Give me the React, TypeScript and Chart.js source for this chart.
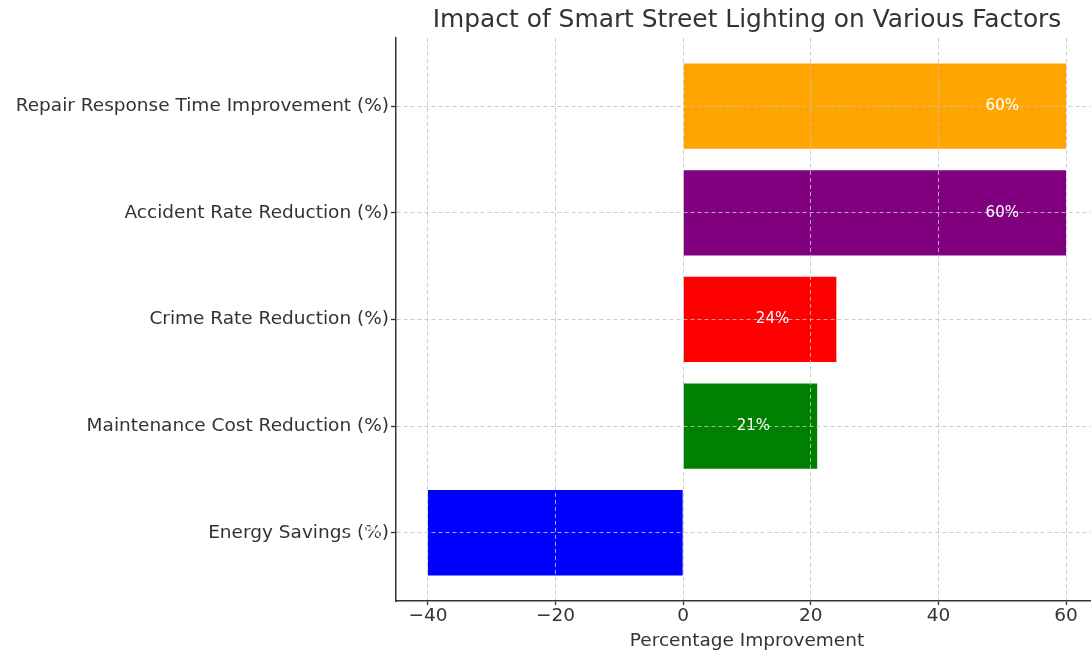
import React, { useEffect, useRef } from 'react';
import { Chart, registerables } from 'chart.js';

Chart.register(...registerables);

// ---- data ----
const categories = [
  'Energy Savings (%)',
  'Maintenance Cost Reduction (%)',
  'Crime Rate Reduction (%)',
  'Accident Rate Reduction (%)',
  'Repair Response Time Improvement (%)',
];
const values = [-40, 21, 24, 60, 60];
const barColors = ['#0000FF', '#008000', '#FF0000', '#800080', '#FFA500'];
const valueLabels = ['-40%', '21%', '24%', '60%', '60%'];
const xTicks = [-40, -20, 0, 20, 40, 60];
const labelShift = 10; // labels sit at (value - 10)

const TEXT = '#333333';
const FONT = '"DejaVu Sans", sans-serif';
const GRID = 'rgba(195,195,195,0.85)';

const valueLabelPlugin = {
  id: 'valueLabels',
  afterDraw(chart: any) {
    const ctx = chart.ctx;
    const xs = chart.scales.x;
    const ys = chart.scales.y;
    ctx.save();
    ctx.font = '15px "DejaVu Sans", sans-serif';
    ctx.fillStyle = '#ffffff';
    ctx.textAlign = 'center';
    ctx.textBaseline = 'middle';
    values.forEach((v, i) => {
      ctx.fillText(valueLabels[i], xs.getPixelForValue(v - labelShift), ys.getPixelForValue(i));
    });
    ctx.restore();
  },
};

export default function App() {
  const ref = useRef<HTMLCanvasElement | null>(null);

  useEffect(() => {
    if (!ref.current) return;
    const chart = new Chart(ref.current, {
      type: 'bar',
      data: {
        datasets: [
          {
            data: values.map((v, i) => ({ x: v, y: i })),
            backgroundColor: barColors,
            borderWidth: 0,
            barPercentage: 0.8,
            categoryPercentage: 1,
          },
        ],
      },
      options: {
        indexAxis: 'y',
        responsive: false,
        animation: false,
        layout: { padding: { left: 0, right: 2, top: 0, bottom: 0 } },
        plugins: {
          legend: { display: false },
          tooltip: { enabled: false },
          title: {
            display: true,
            text: 'Impact of Smart Street Lighting on Various Factors',
            color: TEXT,
            font: { family: FONT, size: 24.9, weight: 'normal' },
            padding: { top: 6, bottom: 2 },
            fullSize: false,
          },
        },
        scales: {
          x: {
            type: 'linear',
            min: -45,
            max: 65,
            offset: false,
            afterBuildTicks: (s: any) => {
              s.ticks = xTicks.map((v) => ({ value: v }));
            },
            afterFit: (s: any) => {
              s.height = 52;
            },
            ticks: {
              color: TEXT,
              font: { family: FONT, size: 18.5 },
              padding: 0,
              maxRotation: 0,
              callback: (v: any) => (v < 0 ? '\u2212' + Math.abs(v) : String(v)),
            },
            grid: {
              z: 1,
              offset: false,
              color: GRID,
              lineWidth: 1,
              drawTicks: true,
              tickLength: 4,
              tickColor: TEXT,
              tickWidth: 1.3,
              tickBorderDash: [],
            },
            border: { display: true, color: TEXT, width: 1.5, dash: [4, 3], z: 2 },
            title: {
              display: true,
              text: 'Percentage Improvement',
              color: TEXT,
              font: { family: FONT, size: 18.5 },
              padding: { top: 0, bottom: 1 },
            },
          },
          y: {
            type: 'linear',
            min: -0.64,
            max: 4.64,
            offset: false,
            afterBuildTicks: (s: any) => {
              s.ticks = categories.map((_, i) => ({ value: i }));
            },
            afterFit: (s: any) => {
              s.width = 396;
            },
            ticks: {
              color: TEXT,
              font: { family: FONT, size: 18.5 },
              padding: 2,
              callback: (v: any) => categories[v] ?? '',
            },
            grid: {
              z: 1,
              offset: false,
              color: GRID,
              lineWidth: 1,
              drawTicks: true,
              tickLength: 5,
              tickColor: TEXT,
              tickWidth: 1.3,
              tickBorderDash: [],
            },
            border: { display: true, color: TEXT, width: 1.5, dash: [4, 3], z: 2 },
          },
        },
      },
      plugins: [valueLabelPlugin],
    } as any);
    return () => chart.destroy();
  }, []);

  return (
    <div
      style={{
        position: 'fixed',
        left: 0,
        top: 0,
        width: 1091,
        height: 653,
        overflow: 'hidden',
        background: '#ffffff',
      }}
    >
      <canvas ref={ref} width={1100} height={653} style={{ width: 1100, height: 653, display: 'block' }} />
    </div>
  );
}
